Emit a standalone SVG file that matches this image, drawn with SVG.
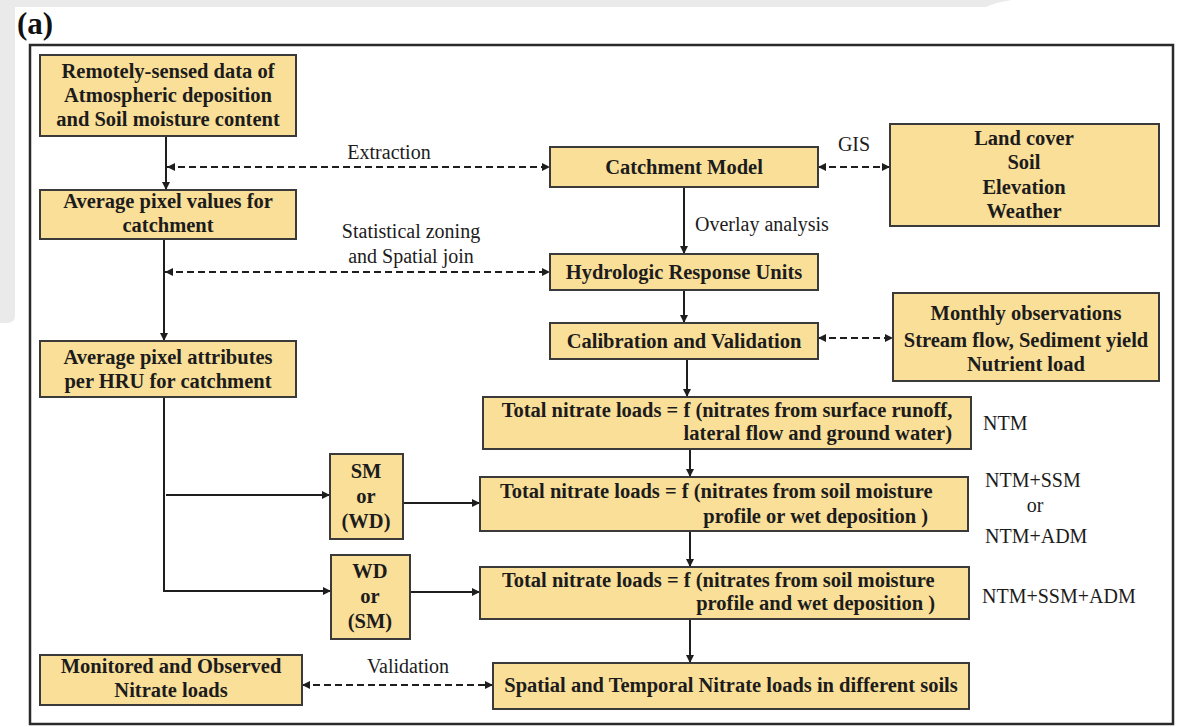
<svg xmlns="http://www.w3.org/2000/svg" width="1178" height="727" viewBox="0 0 1178 727" font-family="Liberation Serif, 'Times New Roman', serif">
<style>
.box{fill:#fadf98;stroke:#3a3a3a;stroke-width:2}
.bt{font-weight:bold;font-size:20.5px;fill:#1c1c1c;text-anchor:middle}
.bs{text-anchor:start}
.be{text-anchor:end}
.lt{font-size:20px;fill:#1c1c1c}
.m{text-anchor:middle}
.c{fill:none;stroke:#1e1e1e;stroke-width:2}
.d{fill:none;stroke:#1e1e1e;stroke-width:2;stroke-dasharray:7 4}
</style>
<defs>
<marker id="ah" viewBox="0 0 10 10" refX="10" refY="5" markerWidth="9" markerHeight="8" markerUnits="userSpaceOnUse" orient="auto-start-reverse">
<path d="M0,0 L10,5 L0,10 z" fill="#1e1e1e"/>
</marker>
</defs>
<rect x="0" y="0" width="1178" height="727" fill="#ffffff"/>
<path d="M0,0 H1012 Q996,2 986,7 H15 V315 Q15,323 7,323 H0 Z" fill="#eaeaea"/>
<text x="17" y="34" font-weight="bold" font-size="31" fill="#111">(a)</text>
<rect x="30" y="45" width="1143" height="679" fill="none" stroke="#2a2a2a" stroke-width="2.5"/>

<g id="connectors">
<path class="c" d="M166,136 V190" marker-end="url(#ah)"/>
<path class="d" d="M167,167 H550" marker-start="url(#ah)" marker-end="url(#ah)"/>
<path class="c" d="M164,239 V341" marker-end="url(#ah)"/>
<path class="d" d="M165,272 H550" marker-start="url(#ah)" marker-end="url(#ah)"/>
<path class="c" d="M164,397 V591 H331" marker-end="url(#ah)"/>
<path class="c" d="M166,495 H330" marker-end="url(#ah)"/>
<path class="c" d="M403,503 H480" marker-end="url(#ah)"/>
<path class="c" d="M410,592 H480" marker-end="url(#ah)"/>
<path class="d" d="M302,685 H493" marker-start="url(#ah)" marker-end="url(#ah)"/>
<path class="c" d="M684,187 V254" marker-end="url(#ah)"/>
<path class="c" d="M684,290 V323" marker-end="url(#ah)"/>
<path class="c" d="M687,359 V397" marker-end="url(#ah)"/>
<path class="c" d="M690,449 V477" marker-end="url(#ah)"/>
<path class="c" d="M690,531 V567" marker-end="url(#ah)"/>
<path class="c" d="M690,619 V663" marker-end="url(#ah)"/>
<path class="d" d="M818,167 H890" marker-start="url(#ah)" marker-end="url(#ah)"/>
<path class="d" d="M818,338 H893" marker-start="url(#ah)" marker-end="url(#ah)"/>
<text class="lt m" x="389" y="159">Extraction</text>
<text class="lt m" x="411" y="238">Statistical zoning</text>
<text class="lt m" x="411" y="263">and Spatial join</text>
<text class="lt" x="695" y="231">Overlay analysis</text>
<text class="lt m" x="854" y="151">GIS</text>
<text class="lt m" x="408" y="673">Validation</text>
</g>

<g id="n-remote">
<rect class="box" x="40" y="55" width="256" height="81"/>
<text class="bt" x="168" y="78">Remotely-sensed data of</text>
<text class="bt" x="168" y="102">Atmospheric deposition</text>
<text class="bt" x="168" y="126">and Soil moisture content</text>
</g>
<g id="n-avgval">
<rect class="box" x="40" y="190" width="256" height="49"/>
<text class="bt" x="168" y="208">Average pixel values for</text>
<text class="bt" x="168" y="232">catchment</text>
</g>
<g id="n-avgattr">
<rect class="box" x="40" y="341" width="256" height="56"/>
<text class="bt" x="168" y="364">Average pixel attributes</text>
<text class="bt" x="168" y="388">per HRU for catchment</text>
</g>
<g id="n-catch">
<rect class="box" x="550" y="147" width="268" height="40"/>
<text class="bt" x="684" y="174">Catchment Model</text>
</g>
<g id="n-land">
<rect class="box" x="890" y="124" width="269" height="102"/>
<text class="bt" x="1024" y="145">Land cover</text>
<text class="bt" x="1024" y="169">Soil</text>
<text class="bt" x="1024" y="194">Elevation</text>
<text class="bt" x="1024" y="218">Weather</text>
</g>
<g id="n-hru">
<rect class="box" x="550" y="254" width="268" height="36"/>
<text class="bt" x="684" y="279">Hydrologic Response Units</text>
</g>
<g id="n-cal">
<rect class="box" x="550" y="323" width="268" height="36"/>
<text class="bt" x="684" y="348">Calibration and Validation</text>
</g>
<g id="n-monthly">
<rect class="box" x="893" y="293" width="266" height="88"/>
<text class="bt" x="1026" y="320">Monthly observations</text>
<text class="bt" x="1026" y="347">Stream flow, Sediment yield</text>
<text class="bt" x="1026" y="371">Nutrient load</text>
</g>
<g id="n-ntm">
<rect class="box" x="483" y="397" width="488" height="52"/>
<text class="bt" x="727" y="417">Total nitrate loads = f (nitrates from surface runoff,</text>
<text class="bt be" x="952" y="440">lateral flow and ground water)</text>
<text class="lt" x="983" y="430">NTM</text>
</g>
<g id="n-sm">
<rect class="box" x="330" y="454" width="73" height="85"/>
<text class="bt" x="366" y="478">SM</text>
<text class="bt" x="366" y="503">or</text>
<text class="bt" x="366" y="528">(WD)</text>
</g>
<g id="n-ntm2">
<rect class="box" x="480" y="477" width="488" height="54"/>
<text class="bt bs" x="500" y="498">Total nitrate loads = f (nitrates from soil moisture</text>
<text class="bt be" x="928" y="523">profile or wet deposition )</text>
<text class="lt" x="985" y="487">NTM+SSM</text>
<text class="lt m" x="1035" y="512">or</text>
<text class="lt" x="985" y="543">NTM+ADM</text>
</g>
<g id="n-wd">
<rect class="box" x="331" y="555" width="79" height="84"/>
<text class="bt" x="370" y="578">WD</text>
<text class="bt" x="370" y="603">or</text>
<text class="bt" x="370" y="628">(SM)</text>
</g>
<g id="n-ntm3">
<rect class="box" x="480" y="567" width="489" height="52"/>
<text class="bt bs" x="502" y="587">Total nitrate loads = f (nitrates from soil moisture</text>
<text class="bt be" x="935" y="610">profile and wet deposition )</text>
<text class="lt" x="982" y="603">NTM+SSM+ADM</text>
</g>
<g id="n-monitored">
<rect class="box" x="40" y="655" width="262" height="50"/>
<text class="bt" x="171" y="673">Monitored and Observed</text>
<text class="bt" x="171" y="697">Nitrate loads</text>
</g>
<g id="n-spatial">
<rect class="box" x="493" y="663" width="476" height="46"/>
<text class="bt" x="731" y="692">Spatial and Temporal Nitrate loads in different soils</text>
</g>
</svg>
